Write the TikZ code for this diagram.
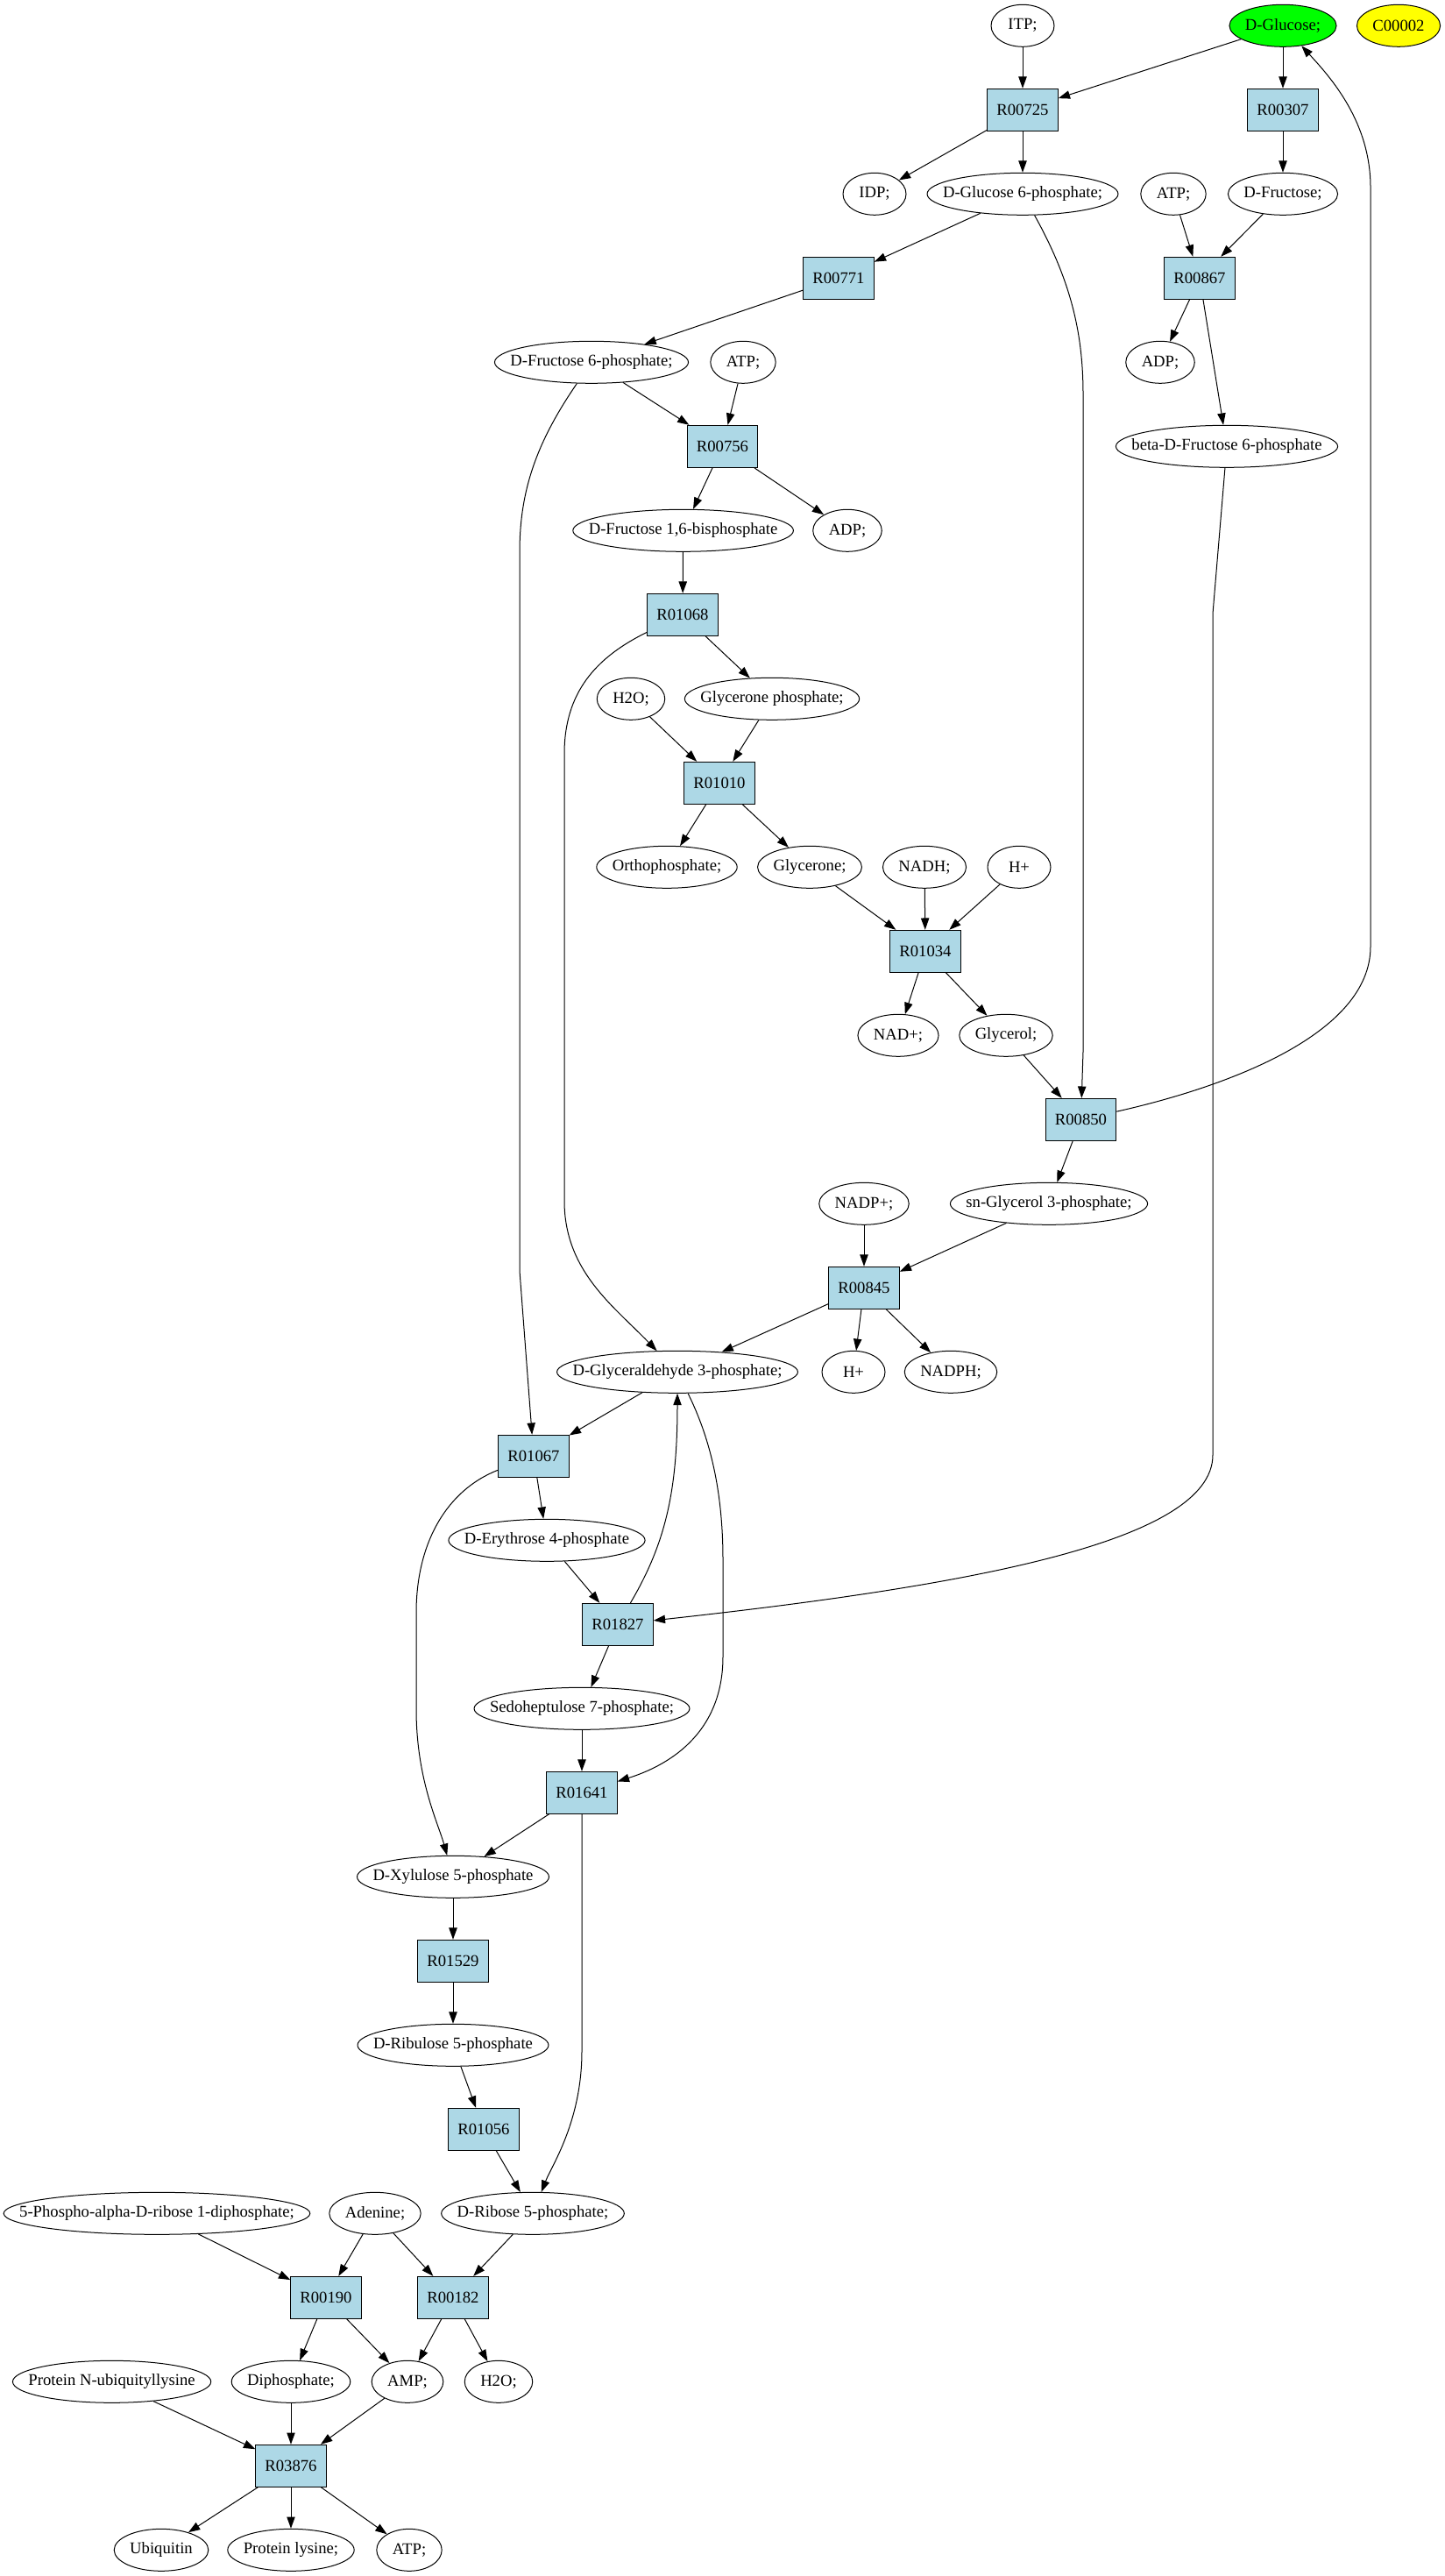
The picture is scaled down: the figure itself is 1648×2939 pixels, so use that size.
\documentclass[tikz,border=0pt]{standalone}
\usepackage{fontspec}
\setmainfont{Liberation Serif}
\usetikzlibrary{arrows.meta,shapes.geometric,calc}
\definecolor{boxblue}{RGB}{173,216,230}
\definecolor{glcgreen}{RGB}{0,255,0}
\definecolor{cpdyellow}{RGB}{255,255,0}
\newcommand\metfont{\fontsize{14pt}{16pt}\selectfont}
\newcommand\met[4][]{%
  \node[metsize] (#2-m) at (#3) {\phantom{#4}};%
  \path let \p1=(#2-m.east), \p2=(#2-m.west) in
    node[metab,minimum width=\x1-\x2,#1] (#2) at (#3) {\makebox[0pt]{#4}};%
}
\tikzset{
  metsize/.style={rectangle, draw=none, inner xsep=13.5pt, inner ysep=0pt, outer sep=0pt, minimum width=54pt, minimum height=36pt, font=\metfont},
  metab/.style={ellipse, draw, line width=0.75pt, inner sep=0pt, minimum height=36pt, font=\metfont},
  rxn/.style={rectangle, draw, fill=boxblue, line width=0.75pt, inner xsep=8pt, inner ysep=0pt, minimum width=54pt, minimum height=36pt, font=\metfont},
  arr/.style={-{Triangle[length=10pt,width=7pt]}, line width=0.75pt},
}
\begin{document}
\begin{tikzpicture}[x=0.75pt,y=-0.75pt]
\useasboundingbox (0,0) rectangle (1648,2939);
% rank 0
\met{itp}{1167,29.3}{ITP;}
\met[fill=glcgreen]{glc}{1464,29.3}{D-Glucose;}
\met[fill=cpdyellow]{c2}{1596,29.3}{C00002}
% rank 1
\node[rxn] (r725) at (1167,125.3) {R00725};
\node[rxn] (r307) at (1464,125.3) {R00307};
% rank 2
\met{idp}{998,221.3}{IDP;}
\met{g6p}{1167,221.3}{D-Glucose 6-phosphate;}
\met{atpa}{1339,221.3}{ATP;}
\met{fru}{1464,221.3}{D-Fructose;}
% rank 3
\node[rxn] (r771) at (957,317.3) {R00771};
\node[rxn] (r867) at (1369,317.3) {R00867};
% rank 4
\met{f6p}{675,413.3}{D-Fructose 6-phosphate;}
\met{atpb}{848,413.3}{ATP;}
\met{adpa}{1324,413.3}{ADP;}
% rank 5
\node[rxn] (r756) at (824.5,509.3) {R00756};
\met{bf6p}{1400,509.3}{beta-D-Fructose 6-phosphate}
% rank 6
\met{fbp}{779.6,605.3}{D-Fructose 1,6-bisphosphate}
\met{adpb}{967,605.3}{ADP;}
% rank 7
\node[rxn] (r1068) at (779,701.3) {R01068};
% rank 8
\met{h2oa}{720,797.3}{H2O;}
\met{gnp}{881,797.3}{Glycerone phosphate;}
% rank 9
\node[rxn] (r1010) at (821,893.3) {R01010};
% rank 10
\met{pi}{761,989.3}{Orthophosphate;}
\met{gln}{924,989.3}{Glycerone;}
\met{nadh}{1055,989.3}{NADH;}
\met{hpa}{1163,989.3}{H+}
% rank 11
\node[rxn] (r1034) at (1056,1085.3) {R01034};
% rank 12
\met{nad}{1025,1181.3}{NAD+;}
\met{glyc}{1148,1181.3}{Glycerol;}
% rank 13
\node[rxn] (r850) at (1233.5,1277.3) {R00850};
% rank 14
\met{nadp}{986,1373.3}{NADP+;}
\met{g3p}{1197,1373.3}{sn-Glycerol 3-phosphate;}
% rank 15
\node[rxn] (r845) at (986,1469.3) {R00845};
% rank 16
\met{gap}{773,1565.3}{D-Glyceraldehyde 3-phosphate;}
\met{hpb}{974,1565.3}{H+}
\met{nadph}{1085,1565.3}{NADPH;}
% rank 17
\node[rxn] (r1067) at (609,1661.3) {R01067};
% rank 18
\met{e4p}{624,1757.3}{D-Erythrose 4-phosphate}
% rank 19
\node[rxn] (r1827) at (705,1853.3) {R01827};
% rank 20
\met{s7p}{664,1949.3}{Sedoheptulose 7-phosphate;}
% rank 21
\node[rxn] (r1641) at (664,2045.3) {R01641};
% rank 22
\met{xu5p}{517,2141.3}{D-Xylulose 5-phosphate}
% rank 23
\node[rxn] (r1529) at (517,2237.3) {R01529};
% rank 24
\met{ru5p}{517,2333.3}{D-Ribulose 5-phosphate}
% rank 25
\node[rxn] (r1056) at (552,2429.3) {R01056};
% rank 26
\met{prpp}{179,2525.3}{5-Phospho-alpha-D-ribose 1-diphosphate;}
\met{ade}{428,2525.3}{Adenine;}
\met{r5p}{608,2525.3}{D-Ribose 5-phosphate;}
% rank 27
\node[rxn] (r190) at (372,2621.3) {R00190};
\node[rxn] (r182) at (517,2621.3) {R00182};
% rank 28
\met{pnu}{127.6,2717.3}{Protein N-ubiquityllysine}
\met{ppi}{332,2717.3}{Diphosphate;}
\met{amp}{465,2717.3}{AMP;}
\met{h2ob}{569,2717.3}{H2O;}
% rank 29
\node[rxn] (r3876) at (332,2813.3) {R03876};
% rank 30
\met{ubq}{184,2909.3}{Ubiquitin}
\met{plys}{332,2909.3}{Protein lysine;}
\met{atpc}{467,2909.3}{ATP;}

% edges
\draw[arr] (itp) -- (r725);
\draw[arr] (glc) -- (r725);
\draw[arr] (glc) -- (r307);
\draw[arr] (r725) -- (idp);
\draw[arr] (r725) -- (g6p);
\draw[arr] (r307) -- (fru);
\draw[arr] (g6p) -- (r771);
\draw[arr] (g6p) .. controls (1222,320) and (1236,380) .. (1236,450) -- (1236,1200) -- (r850);
\draw[arr] (atpa) -- (r867);
\draw[arr] (fru) -- (r867);
\draw[arr] (r771) -- (f6p);
\draw[arr] (r867) -- (adpa);
\draw[arr] (r867) -- (bf6p);
\draw[arr] (f6p) -- (r756);
\draw[arr] (f6p) .. controls (612,505) and (593,560) .. (593,630) -- (593,1450) -- (r1067);
\draw[arr] (atpb) -- (r756);
\draw[arr] (r756) -- (fbp);
\draw[arr] (r756) -- (adpb);
\draw[arr] (bf6p) -- (1384,700) -- (1384,1660) .. controls (1384,1760) and (1100,1810) .. (r1827);
\draw[arr] (fbp) -- (r1068);
\draw[arr] (r1068) -- (gnp);
\draw[arr] (r1068) .. controls (680,750) and (644,790) .. (644,860) -- (644,1370) .. controls (644,1450) and (700,1490) .. (gap);
\draw[arr] (h2oa) -- (r1010);
\draw[arr] (gnp) -- (r1010);
\draw[arr] (r1010) -- (pi);
\draw[arr] (r1010) -- (gln);
\draw[arr] (gln) -- (r1034);
\draw[arr] (nadh) -- (r1034);
\draw[arr] (hpa) -- (r1034);
\draw[arr] (r1034) -- (nad);
\draw[arr] (r1034) -- (glyc);
\draw[arr] (glyc) -- (r850);
\draw[arr] (r850) .. controls (1400,1240) and (1564,1180) .. (1564,1080) -- (1564,214) .. controls (1564,140) and (1520,90) .. (glc);
\draw[arr] (r850) -- (g3p);
\draw[arr] (nadp) -- (r845);
\draw[arr] (g3p) -- (r845);
\draw[arr] (r845) -- (gap);
\draw[arr] (r845) -- (hpb);
\draw[arr] (r845) -- (nadph);
\draw[arr] (gap) -- (r1067);
\draw[arr] (gap) .. controls (810,1640) and (825,1700) .. (825,1780) -- (825,1890) .. controls (825,1980) and (760,2015) .. (r1641);
\draw[arr] (r1067) -- (e4p);
\draw[arr] (r1067) .. controls (510,1700) and (475,1760) .. (475,1840) -- (475,1950) .. controls (475,2030) and (500,2080) .. (xu5p);
\draw[arr] (e4p) -- (r1827);
\draw[arr] (r1827) .. controls (760,1760) and (773,1700) .. (gap);
\draw[arr] (r1827) -- (s7p);
\draw[arr] (s7p) -- (r1641);
\draw[arr] (r1641) -- (xu5p);
\draw[arr] (r1641) -- (664,2340) .. controls (664,2420) and (630,2470) .. (r5p);
\draw[arr] (xu5p) -- (r1529);
\draw[arr] (r1529) -- (ru5p);
\draw[arr] (ru5p) -- (r1056);
\draw[arr] (r1056) -- (r5p);
\draw[arr] (prpp) -- (r190);
\draw[arr] (ade) -- (r190);
\draw[arr] (ade) -- (r182);
\draw[arr] (r5p) -- (r182);
\draw[arr] (r190) -- (ppi);
\draw[arr] (r190) -- (amp);
\draw[arr] (r182) -- (amp);
\draw[arr] (r182) -- (h2ob);
\draw[arr] (pnu) -- (r3876);
\draw[arr] (ppi) -- (r3876);
\draw[arr] (amp) -- (r3876);
\draw[arr] (r3876) -- (ubq);
\draw[arr] (r3876) -- (plys);
\draw[arr] (r3876) -- (atpc);
\end{tikzpicture}
\end{document}
